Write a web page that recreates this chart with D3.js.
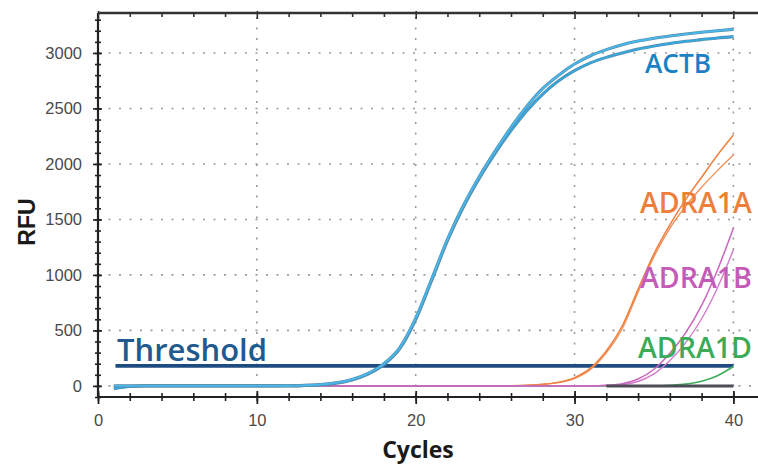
<!DOCTYPE html>
<html>
<head>
<meta charset="utf-8">
<script src="https://cdn.jsdelivr.net/npm/d3@7"></script>
<style>
  html, body { margin: 0; padding: 0; background: #fff; }
  svg { display: block; }
</style>
</head>
<body>
<svg id="chart" width="758" height="466"></svg>
<script>
// ---------------- DATA ----------------
const cycles = [1,2,3,4,5,6,7,8,9,10,11,12,13,14,15,16,17,18,19,20,21,22,23,24,25,26,27,28,29,30,31,32,33,34,35,36,37,38,39,40];

const actbUpper = [0,0,0,0,0,0,0,0,0,0,0,2,5,12,28,58,112,200,345,610,960,1320,1625,1885,2115,2330,2520,2680,2800,2900,2975,3030,3075,3108,3132,3152,3170,3186,3200,3213];
const actbLower = [-25,-5,0,0,0,0,0,0,0,0,0,0,4,10,25,54,106,192,335,598,948,1308,1612,1870,2095,2300,2480,2630,2750,2840,2910,2960,3000,3035,3062,3085,3105,3120,3135,3147];

const adra1aUpper = [0,0,0,0,0,0,0,0,0,0,0,0,0,0,0,0,0,0,0,0,0,0,0,0,0,2,7,16,34,75,160,315,540,870,1190,1450,1680,1880,2080,2260];
const adra1aLower = [0,0,0,0,0,0,0,0,0,0,0,0,0,0,0,0,0,0,0,0,0,0,0,0,0,1,5,13,29,66,148,298,515,845,1165,1420,1620,1790,1940,2080];

const adra1bUpper = [0,0,0,0,0,0,0,0,0,0,0,0,0,0,0,0,0,0,0,0,0,0,0,0,0,0,0,0,0,0,0,5,20,62,150,295,480,725,1045,1420];
const adra1bLower = [0,0,0,0,0,0,0,0,0,0,0,0,0,0,0,0,0,0,0,0,0,0,0,0,0,0,0,0,0,0,0,3,12,40,108,228,390,605,885,1225];

const adra1d = [0,0,0,0,0,0,0,0,0,0,0,0,0,0,0,0,0,0,0,0,0,0,0,0,0,0,0,0,0,0,0,0,0,0,0,5,16,42,92,175];
const noTemplate = [null,null,null,null,null,null,null,null,null,null,null,null,null,null,null,null,null,null,null,null,null,null,null,null,null,null,null,null,null,null,null,0,0,0,0,0,0,0,0,0];

const thresholdValue = 180;
const thresholdRange = [1.1, 40];

const yMajorTicks = [0, 500, 1000, 1500, 2000, 2500, 3000];
const yMinorTicks = [-100,0,100,200,300,400,500,600,700,800,900,1000,1100,1200,1300,1400,1500,1600,1700,1800,1900,2000,2100,2200,2300,2400,2500,2600,2700,2800,2900,3000,3100,3200,3300];
const xMajorTicks = [0, 10, 20, 30, 40];
const xMinorTicks = [0,2,4,6,8,10,12,14,16,18,20,22,24,26,28,30,32,34,36,38,40];
const xGrid = [10, 20, 30, 40];
const yGrid = [0, 500, 1000, 1500, 2000, 2500, 3000];

const labels = ["ACTB", "ADRA1A", "ADRA1B", "ADRA1D"];

// ---------------- LAYOUT ----------------
const svg = d3.select("#chart");
const pL = 98, pR = 758, pT = 13, pB = 397;

const x = d3.scaleLinear().domain([0, 41.55]).range([pL, pR]);
const y = d3.scaleLinear().domain([-100, 3360]).range([pB, pT]);

// grid
const grid = svg.append("g").attr("stroke", "#9a9a9a").attr("stroke-width", 1.6)
  .attr("stroke-dasharray", "2,8.5");
grid.selectAll("line.v").data(xGrid).join("line").attr("class", "v")
  .attr("x1", d => x(d)).attr("x2", d => x(d)).attr("y1", pT + 4).attr("y2", pB);
grid.selectAll("line.h").data(yGrid).join("line").attr("class", "h")
  .attr("y1", d => y(d)).attr("y2", d => y(d)).attr("x1", pL).attr("x2", pR);

// threshold line
svg.append("line")
  .attr("x1", x(thresholdRange[0])).attr("x2", x(thresholdRange[1]))
  .attr("y1", y(thresholdValue)).attr("y2", y(thresholdValue))
  .attr("stroke", "#1f4c80").attr("stroke-width", 3.6);

// curves
const line = d3.line()
  .defined(d => d[1] !== null)
  .x(d => x(d[0])).y(d => y(d[1]))
  .curve(d3.curveMonotoneX);
const pts = arr => cycles.map((c, i) => [c, arr[i]]);

function drawCurve(arr, color, width, under) {
  if (under) {
    svg.append("path").attr("d", line(pts(arr))).attr("fill", "none")
      .attr("stroke", under).attr("stroke-width", width + 1.2).attr("stroke-linejoin", "round");
  }
  svg.append("path").attr("d", line(pts(arr))).attr("fill", "none")
    .attr("stroke", color).attr("stroke-width", width).attr("stroke-linejoin", "round");
}

drawCurve(adra1aLower, "#f0925a", 1.4);
drawCurve(adra1aUpper, "#ee8040", 1.5);
drawCurve(adra1d, "#3fae5c", 1.6);
drawCurve(adra1bLower, "#d57bcb", 1.4);
drawCurve(adra1bUpper, "#c966c0", 1.5);
drawCurve(noTemplate, "#4d4d55", 3);
drawCurve(actbLower, "#35a8de", 1.9, "#5a8aa8");
drawCurve(actbUpper, "#48b8ea", 1.9, "#5a8aa8");

// axes
const axisColor = "#222";
svg.append("line").attr("x1", pL).attr("x2", pL).attr("y1", pT).attr("y2", pB)
  .attr("stroke", axisColor).attr("stroke-width", 2.2);
svg.append("line").attr("x1", pL).attr("x2", pR).attr("y1", pB).attr("y2", pB)
  .attr("stroke", axisColor).attr("stroke-width", 2);
svg.append("line").attr("x1", pL).attr("x2", pR).attr("y1", pT).attr("y2", pT)
  .attr("stroke", "#333").attr("stroke-width", 2.4);

// y minor ticks (crossing)
const yMinor = svg.append("g").attr("transform", `translate(${pL},0)`)
  .call(d3.axisLeft(y).tickValues(yMinorTicks).tickSize(3).tickFormat(""));
yMinor.select(".domain").remove();
yMinor.selectAll(".tick line").attr("x2", -3).attr("x1", 3).attr("stroke", "#222").attr("stroke-width", 1.6);

// y major ticks with labels
const yAx = svg.append("g").attr("transform", `translate(${pL},0)`)
  .call(d3.axisLeft(y).tickValues(yMajorTicks).tickSize(5).tickPadding(11).tickFormat(d3.format("d")));
yAx.select(".domain").remove();
yAx.selectAll(".tick line").attr("x1", 4).attr("stroke", "#222").attr("stroke-width", 1.6);
yAx.selectAll(".tick text").attr("font-family", "Liberation Sans, Arial, sans-serif")
  .attr("font-size", 16.5).attr("fill", "#4a4a4a");

// x minor ticks (bottom)
const xMinor = svg.append("g").attr("transform", `translate(0,${pB})`)
  .call(d3.axisBottom(x).tickValues(xMinorTicks).tickSize(4).tickFormat(""));
xMinor.select(".domain").remove();
xMinor.selectAll(".tick line").attr("y1", -4).attr("stroke", "#222").attr("stroke-width", 1.6);

// x major ticks with labels
const xAx = svg.append("g").attr("transform", `translate(0,${pB})`)
  .call(d3.axisBottom(x).tickValues(xMajorTicks).tickSize(7).tickPadding(10).tickFormat(d3.format("d")));
xAx.select(".domain").remove();
xAx.selectAll(".tick line").attr("y1", -6).attr("stroke", "#222").attr("stroke-width", 1.8);
xAx.selectAll(".tick text").attr("font-family", "Liberation Sans, Arial, sans-serif")
  .attr("font-size", 16.5).attr("fill", "#4a4a4a");

// top border ticks
const xTop = svg.append("g").attr("transform", `translate(0,${pT})`)
  .call(d3.axisTop(x).tickValues(xMinorTicks).tickSize(-4).tickFormat(""));
xTop.select(".domain").remove();
xTop.selectAll(".tick line").attr("stroke", "#333").attr("stroke-width", 1.6)
  .attr("y2", d => xMajorTicks.includes(d) ? 6 : 4).attr("y1", d => xMajorTicks.includes(d) ? -2 : 0);

// axis titles
svg.append("text").attr("transform", "translate(35,222) rotate(-90)")
  .attr("text-anchor", "middle").attr("font-family", "Liberation Sans, Arial, sans-serif")
  .attr("font-weight", "bold").attr("font-size", 23).attr("fill", "#1a1a1a").text("RFU");
svg.append("text").attr("x", 418).attr("y", 458)
  .attr("text-anchor", "middle").attr("font-family", "Open Sans, sans-serif")
  .attr("font-weight", "bold").attr("font-size", 23).attr("fill", "#1a1a1a").text("Cycles");

// labels fitted to measured widths
function fitText(txt, xPos, yBase, width, color, base) {
  const t = svg.append("text").attr("x", xPos).attr("y", yBase)
    .attr("font-family", "Open Sans, sans-serif").attr("font-weight", 600)
    .attr("font-size", base).attr("fill", color).text(txt);
  const w = t.node().getComputedTextLength();
  if (w > 0) t.attr("font-size", base * width / w);
  return t;
}
fitText("Threshold", 117, 361, 150, "#215a8e", 30);
fitText(labels[0], 645, 73, 66, "#1a82c4", 27);
fitText(labels[1], 640, 213, 112, "#ee7f3a", 27);
fitText(labels[2], 640, 288, 112, "#c45bb9", 27);
fitText(labels[3], 638, 358, 114, "#3cab58", 27);
</script>
</body>
</html>
